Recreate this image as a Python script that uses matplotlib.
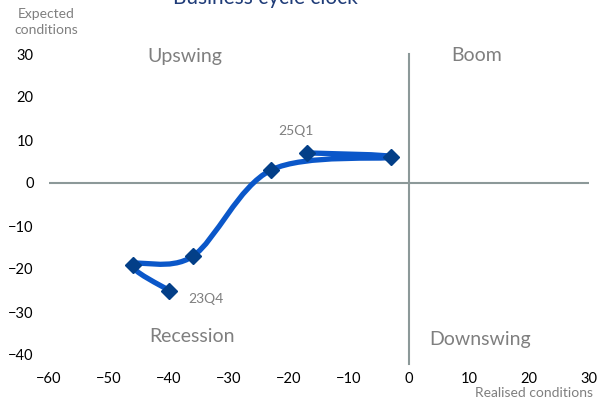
import numpy as np
import matplotlib
matplotlib.use("Agg")
import matplotlib.pyplot as plt
from matplotlib.path import Path
from matplotlib.patches import PathPatch

plt.rcParams['font.family'] = ['Lato', 'DejaVu Sans']

# -----------------------------
# Data (realised, expected), 23Q4 -> 25Q1
# -----------------------------
quarters = ["23Q4", "24Q1", "24Q2", "24Q3", "24Q4", "25Q1"]
realised = [-40, -46, -36, -23, -3, -17]
expected = [-25, -19, -17, 3, 6, 7]

xticks = [-60, -50, -40, -30, -20, -10, 0, 10, 20, 30]
yticks = [-40, -30, -20, -10, 0, 10, 20, 30]

quadrants = ["Upswing", "Boom", "Recession", "Downswing"]
quad_pos = [(-37.3, 29.5), (11.3, 29.7), (-36.2, -35.7), (11.8, -36.4)]

grey = "#7f7f7f"
axis_grey = "#8c9999"
line_blue = "#0b57c9"
marker_blue = "#033f88"

fig = plt.figure(figsize=(6.12, 4.0), dpi=100)
ax = fig.add_axes([49 / 612, 1 - 355 / 400, 540 / 612, 301 / 400])
ax.set_xlim(-60, 30)
ax.set_ylim(-40, 30)

for s in ax.spines.values():
    s.set_visible(False)

ax.set_xticks(xticks)
ax.set_yticks(yticks)
ax.tick_params(length=0, labelsize=10.5, colors="black")
ax.tick_params(axis="x", pad=12)
ax.tick_params(axis="y", pad=11)

# quadrant axes
ax.axhline(0, color=axis_grey, lw=1.5, zorder=1)
ax.plot([0, 0], [30, -42], color=axis_grey, lw=1.5, zorder=1, clip_on=False)

# -----------------------------
# Smoothed line (Catmull-Rom style bezier, like spreadsheet smoothing)
# -----------------------------
pts = np.column_stack([realised, expected]).astype(float)
verts = [pts[0]]
codes = [Path.MOVETO]
n = len(pts)
for i in range(n - 1):
    p0 = pts[max(i - 1, 0)]
    p1 = pts[i]
    p2 = pts[i + 1]
    p3 = pts[min(i + 2, n - 1)]
    c1 = p1 + (p2 - p0) / 6.0
    c2 = p2 - (p3 - p1) / 6.0
    verts += [c1, c2, p2]
    codes += [Path.CURVE4] * 3
ax.add_patch(PathPatch(Path(verts, codes), fill=False, edgecolor=line_blue,
                       lw=3.8, capstyle="round", joinstyle="round", zorder=3))
ax.plot(realised, expected, ls="none", marker="D", ms=8,
        color=marker_blue, zorder=4)

# point labels
ax.text(-18.8, 12.1, quarters[-1], color=grey, fontsize=10, ha="center", va="center")
ax.text(-33.8, -26.9, quarters[0], color=grey, fontsize=10, ha="center", va="center")

for lab, (qx, qy) in zip(quadrants, quad_pos):
    ax.text(qx, qy, lab, color=grey, fontsize=14, ha="center", va="center")

# axis titles
fig.text(46 / 612, 1 - 22 / 400, "Expected\nconditions", color=grey, fontsize=10,
         ha="center", va="center", linespacing=1.35)
fig.text(534 / 612, 1 - 393 / 400, "Realised conditions", color=grey, fontsize=10,
         ha="center", va="center")

# title (cut at top edge)
fig.text(265 / 612, 1 - 4 / 400, "Business cycle clock", color="#1f3c78",
         fontsize=15, ha="center", va="baseline")

fig.savefig("out.png", dpi=100)
